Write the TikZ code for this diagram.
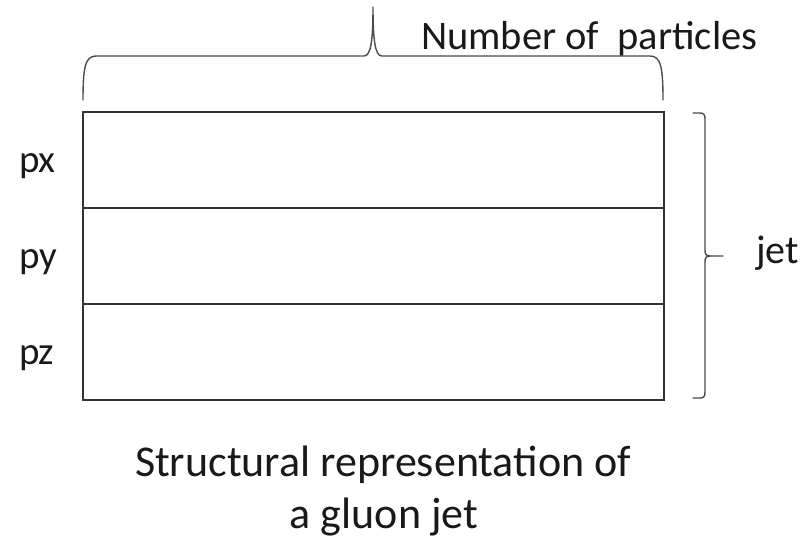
\documentclass[tikz,border=0pt]{standalone}
\usepackage{fontspec}
\setmainfont{Carlito}
\begin{document}
\begin{tikzpicture}[x=1pt,y=-1pt,
  rowbox/.style={draw=black!80, line width=1.4pt, minimum width=581pt, minimum height=96pt, inner sep=0pt, outer sep=0pt},
  lbl/.style={inner sep=0pt, outer sep=0pt, anchor=base west, font=\fontsize{39}{46}\selectfont, text=black!90},
  captext/.style={inner sep=0pt, outer sep=0pt, anchor=base, font=\fontsize{44}{52}\selectfont, text=black!90},
  bracestyle/.style={draw=black!70, line width=1.4pt, line join=round, line cap=round}]
\useasboundingbox (0,0) rectangle (805,539);
% rows
\node[rowbox] (rx) at (373.5,160) {};
\node[rowbox] (ry) at (373.5,256) {};
\node[rowbox] (rz) at (373.5,352) {};
% row labels
\node[lbl] (lx) at (19,172) {px};
\node[lbl] (ly) at (19,268) {py};
\node[lbl] (lz) at (19,364) {pz};
% top brace
\path[bracestyle] (83,100) .. controls (83,68) and (85,56) .. (96,56) -- (364,56)
  .. controls (371,56) and (373,40) .. (373,7)
  .. controls (373,40) and (375,56) .. (382,56) -- (650,56)
  .. controls (661,56) and (663,68) .. (663,100);
\coordinate (tip) at (373,7);
\node[lbl, font=\fontsize{40.5}{46}\selectfont] (np) at (421,49) {Number of~ particles};
% right brace
\path[bracestyle] (693,113) -- (700,113) .. controls (704,113) and (705,115) .. (705,119)
  -- (705,250) .. controls (705,254) and (706,256) .. (710,256) -- (723,256);
\path[bracestyle] (710,256) .. controls (706,256) and (705,258) .. (705,262)
  -- (705,392) .. controls (705,396) and (704,398) .. (700,398) -- (693,398);
\coordinate (jtick) at (723,256);
\node[lbl, font=\fontsize{40}{46}\selectfont] (jet) at (756,263) {jet};
% caption
\node[captext] (c1) at (383,476) {Structural representation of};
\node[captext] (c2) at (384,528) {a gluon jet};
\end{tikzpicture}
\end{document}
